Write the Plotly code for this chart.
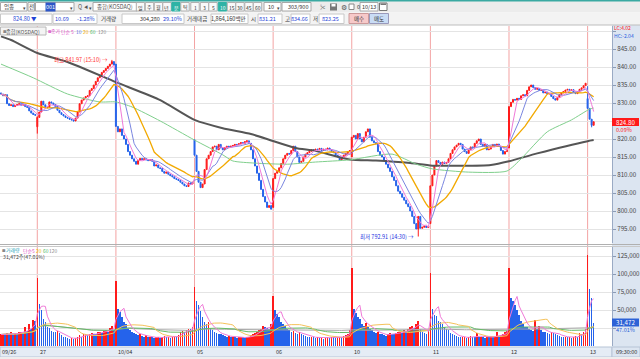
import numpy as np
import pandas as pd
import plotly.graph_objects as go

FONT = "Noto Sans CJK KR, Noto Sans, sans-serif"
W, H = 640, 359
ML, MR, MT, MB = 0, 28, 26, 13
PW = W - ML - MR
PH = H - MT - MB
BASE = H - MB

# ---------------- data (10-minute candles, KOSDAQ) ----------------
day_labels = ["09/26", "27", "10/04", "05", "06", "10", "11", "12", "13"]
day_open = [832.8, 823.4, 840.8, 819.8, 801.0, 815.0, 796.5, 817.5, 831.21]

close_0926 = [832.5, 832.0, 832.3, 829.8, 829.3, 829.5, 829.0, 829.3, 829.6, 829.8,
              829.4, 829.6, 829.0, 828.8, 827.8, 827.2, 826.8, 826.6]
close_0927 = [826.0, 827.5, 830.5, 829.5, 828.6, 828.8, 830.3, 830.0, 829.6, 829.0,
              828.0, 827.3, 826.8, 826.4, 826.0, 825.8, 825.5, 825.3, 825.0, 825.8,
              827.5, 829.8, 830.8, 831.4, 831.8, 832.0, 833.5, 834.0, 835.0, 836.0,
              837.0, 837.8, 838.5, 839.0, 839.6, 840.2, 840.8, 841.5, 840.5]
close_1004 = [823.5, 822.0, 822.8, 821.0, 820.0, 818.5, 816.5, 815.5, 814.5, 813.8,
              813.0, 814.0, 814.6, 814.3, 814.5, 814.2, 814.0, 814.3, 813.8, 812.5,
              812.8, 812.0, 811.8, 811.0, 810.5, 810.8, 810.2, 809.8, 809.5, 809.0,
              808.8, 808.5, 808.0, 807.5, 807.0, 806.8, 807.8, 807.5, 808.0]
close_1005 = [815.5, 811.0, 808.0, 806.5, 807.5, 811.5, 814.5, 815.5, 816.5, 817.8,
              818.0, 817.0, 818.5, 817.5, 817.0, 817.6, 818.0, 817.8, 818.0, 818.2,
              818.5, 818.4, 818.7, 819.0, 818.8, 819.3, 819.5, 818.8, 817.0, 814.5,
              812.5, 810.5, 808.5, 806.0, 804.0, 802.5, 801.0, 801.5, 800.5]
close_1006 = [809.0, 810.5, 811.0, 812.0, 813.2, 814.5, 815.5, 816.0, 815.8, 816.8,
              818.0, 816.5, 815.0, 813.5, 813.8, 815.0, 815.8, 816.2, 816.6, 817.0,
              816.8, 817.2, 817.0, 817.4, 816.8, 817.2, 817.0, 817.5, 817.0, 816.5,
              816.2, 815.5, 815.0, 814.2, 814.8, 815.5, 816.0, 816.5, 816.8]
close_1010 = [820.5, 821.0, 820.0, 821.5, 820.0, 819.2, 820.5, 822.0, 822.8, 820.5,
              819.5, 819.0, 818.6, 816.5, 815.5, 815.0, 814.0, 813.0, 812.0, 811.0,
              809.5, 808.5, 807.0, 805.5, 804.8, 803.8, 803.0, 802.0, 801.2, 800.0,
              798.5, 796.5, 795.0, 798.5, 795.2, 795.5, 795.8, 795.4, 795.8]
close_1011 = [807.0, 810.0, 812.5, 814.0, 813.5, 813.0, 813.6, 813.2, 813.5, 814.5,
              816.0, 817.0, 817.8, 818.3, 818.8, 818.5, 817.2, 816.5, 816.0, 817.0,
              817.8, 817.5, 818.8, 819.5, 820.0, 818.5, 818.0, 818.5, 817.0, 817.2,
              818.0, 818.5, 818.2, 818.6, 818.0, 816.8, 815.8, 816.5, 817.0]
close_1012 = [829.0, 830.2, 831.0, 830.8, 831.3, 831.0, 832.0, 832.3, 832.0, 833.5,
              834.5, 835.0, 834.3, 833.8, 834.0, 833.5, 833.6, 832.8, 833.0, 832.5,
              832.6, 831.8, 831.2, 830.8, 831.5, 832.3, 832.8, 833.2, 833.6, 833.8,
              833.5, 833.7, 833.0, 832.6, 833.2, 833.8, 834.2, 834.8, 835.49]
close_1013 = [828.5, 825.5, 823.8, 824.8]

vol_0926 = [16000, 17000, 15000, 18000, 16000, 19000, 15000, 18000, 17000, 19000,
            20000, 17000, 26000, 21000, 30000, 24000, 36000, 35000]
vol_0927 = [95000, 59000, 50000, 38000, 33000, 27000, 25000, 21000, 20000, 19000,
            21000, 18000, 15000, 13000, 12000, 11000, 10000, 11000, 10000, 11000,
            12000, 15000, 13000, 16000, 17000, 15000, 16000, 18000, 17000, 16000,
            19000, 20000, 18000, 21000, 22000, 20000, 25000, 28000, 22000]
vol_1004 = [90000, 51000, 47000, 40000, 34000, 30000, 25000, 22000, 20000, 18000,
            17000, 15000, 16000, 14000, 13000, 15000, 12000, 13000, 12000, 11000,
            12000, 13000, 11000, 12000, 14000, 12000, 13000, 11000, 12000, 14000,
            13000, 15000, 20000, 21000, 19000, 22000, 24000, 23000, 26000]
vol_1005 = [82000, 62000, 57000, 48000, 40000, 34000, 30000, 33000, 25000, 22000,
            20000, 18000, 17000, 16000, 15000, 14000, 13000, 14000, 12000, 13000,
            12000, 11000, 12000, 13000, 12000, 11000, 12000, 13000, 15000, 16000,
            18000, 20000, 22000, 24000, 28000, 26000, 25000, 24000, 30000]
vol_1006 = [69000, 50000, 45000, 40000, 33000, 30000, 28000, 24000, 22000, 20000,
            21000, 18000, 17000, 19000, 16000, 15000, 14000, 13000, 12000, 13000,
            12000, 11000, 12000, 11000, 12000, 10000, 11000, 12000, 11000, 13000,
            12000, 11000, 12000, 13000, 12000, 14000, 15000, 16000, 22000]
vol_1010 = [108000, 52000, 46000, 40000, 38000, 30000, 28000, 32000, 27000, 24000,
            22000, 20000, 18000, 19000, 17000, 16000, 15000, 14000, 16000, 18000,
            17000, 16000, 18000, 19000, 20000, 18000, 22000, 21000, 24000, 26000,
            28000, 25000, 30000, 35000, 24000, 20000, 18000, 17000, 22000]
vol_1011 = [102000, 52000, 43000, 41000, 35000, 33000, 30000, 26000, 24000, 22000,
            18000, 16000, 15000, 14000, 13000, 12000, 12000, 13000, 11000, 12000,
            14000, 13000, 12000, 18000, 12000, 13000, 12000, 11000, 13000, 12000,
            14000, 12000, 13000, 19000, 14000, 15000, 16000, 20000, 21000]
vol_1012 = [108000, 66000, 63000, 57000, 50000, 43000, 35000, 30000, 27000, 26000,
            24000, 22000, 21000, 36000, 24000, 28000, 22000, 20000, 19000, 18000,
            17000, 20000, 18000, 17000, 15000, 14000, 13000, 12000, 13000, 12000,
            13000, 11000, 12000, 14000, 13000, 18000, 16000, 20000, 24000]
vol_1013 = [127000, 79000, 66000, 31472]

# candles with a visible wick beyond the body
wick_high_idx = [55, 291, 18]
wick_high_val = [841.97, 834.66, 826.3]
wick_low_idx = [18, 207, 293]
wick_low_val = [821.5, 792.91, 823.25]

# long moving averages (candle index -> value)
ma60_idx = [0, 16, 33, 49, 57, 65, 79, 96, 110, 115, 126, 142, 156, 173, 194, 206, 214, 232, 251, 258, 271, 283, 292, 294]
ma60_val = [840.8, 837.0, 832.5, 830.3, 830.3, 828.9, 825.0, 819.7, 815.6, 813.9, 813.3, 813.0, 813.6, 814.2, 815.8, 813.0, 811.7, 810.8, 811.1, 814.5, 822.0, 825.3, 828.3, 828.6]
ma120_idx = [0, 5, 18, 33, 57, 79, 96, 110, 124, 134, 146, 156, 173, 186, 203, 214, 243, 252, 266, 291, 294]
ma120_val = [848.5, 847.5, 843.9, 841.4, 835.8, 830.8, 825.3, 823.0, 821.4, 819.6, 817.5, 816.7, 814.3, 814.0, 813.3, 812.6, 812.8, 813.8, 816.0, 819.4, 819.7]

price_ticks = [795, 800, 805, 810, 815, 820, 825, 830, 835, 840, 845]
vol_ticks = [50000, 75000, 100000, 125000]

# ---------------- assemble ----------------
days_close = [close_0926, close_0927, close_1004, close_1005, close_1006,
              close_1010, close_1011, close_1012, close_1013]
days_vol = [vol_0926, vol_0927, vol_1004, vol_1005, vol_1006,
            vol_1010, vol_1011, vol_1012, vol_1013]
closes = np.array(sum(days_close, []), dtype=float)
vols = np.array(sum(days_vol, []), dtype=float)
n = len(closes)
xi = np.arange(n)
day_start = np.cumsum([0] + [len(d) for d in days_close[:-1]])

opens = np.empty(n)
opens[1:] = closes[:-1]
opens[day_start] = day_open
highs = np.maximum(opens, closes)
lows = np.minimum(opens, closes)
for i, v in zip(wick_high_idx, wick_high_val):
    highs[i] = max(highs[i], v)
for i, v in zip(wick_low_idx, wick_low_val):
    lows[i] = min(lows[i], v)

cs = pd.Series(closes)
ma5 = cs.rolling(5, min_periods=1).mean()
ma10 = cs.rolling(10, min_periods=1).mean()
ma20 = cs.rolling(20, min_periods=1).mean()
vs = pd.Series(vols)
vma5 = vs.rolling(5, min_periods=1).mean()
vma20 = vs.rolling(20, min_periods=1).mean()
vma60 = vs.rolling(60, min_periods=1).mean()
vma120 = vs.rolling(120, min_periods=1).mean()

RED = "#ff1a1a"
BLUE = "#2563eb"
vcol = [RED if (i == 0 or vols[i] >= vols[i - 1]) else BLUE for i in range(n)]

fig = go.Figure()
fig.add_trace(go.Candlestick(
    x=xi, open=opens, high=highs, low=lows, close=closes,
    increasing=dict(line=dict(color=RED, width=1), fillcolor=RED),
    decreasing=dict(line=dict(color=BLUE, width=1), fillcolor=BLUE),
    whiskerwidth=0, xaxis="x", yaxis="y", hoverinfo="skip"))
fig.add_trace(go.Scatter(x=ma120_idx, y=ma120_val, mode="lines", line=dict(color="#555555", width=2, shape="spline", smoothing=0.6), xaxis="x", yaxis="y"))
fig.add_trace(go.Scatter(x=ma60_idx, y=ma60_val, mode="lines", line=dict(color="#7fcf8c", width=1, shape="spline", smoothing=0.6), xaxis="x", yaxis="y"))
fig.add_trace(go.Scatter(x=xi, y=ma20, mode="lines", line=dict(color="#f2a900", width=1.3), xaxis="x", yaxis="y"))
fig.add_trace(go.Scatter(x=xi, y=ma10, mode="lines", line=dict(color="#7a86e0", width=1), xaxis="x", yaxis="y"))
fig.add_trace(go.Scatter(x=xi, y=ma5, mode="lines", line=dict(color="#f07ad8", width=1), xaxis="x", yaxis="y"))

fig.add_trace(go.Bar(x=xi, y=vols, marker=dict(color=vcol, line=dict(width=0)), width=0.78, xaxis="x", yaxis="y2", hoverinfo="skip"))
fig.add_trace(go.Scatter(x=xi, y=vma120, mode="lines", line=dict(color="#a8a8a8", width=1), xaxis="x", yaxis="y2"))
fig.add_trace(go.Scatter(x=xi, y=vma60, mode="lines", line=dict(color="#66bb66", width=1), xaxis="x", yaxis="y2"))
fig.add_trace(go.Scatter(x=xi, y=vma20, mode="lines", line=dict(color="#f5c25a", width=1), xaxis="x", yaxis="y2"))
fig.add_trace(go.Scatter(x=xi, y=vma5, mode="lines", line=dict(color="#f07ad8", width=1), xaxis="x", yaxis="y2"))

# ---------------- helpers ----------------
shapes = []
annos = []
FS = 5.5
LS = 4.9


def px(x):
    return (x - ML) / PW


def py(y):
    return (BASE - y) / PH


def rect(x0, y0, x1, y1, fill, line=None, layer="above", lw=1):
    shapes.append(dict(type="rect", xref="paper", yref="paper",
                       x0=px(x0), x1=px(x1), y0=py(y1), y1=py(y0),
                       fillcolor=fill, layer=layer,
                       line=dict(color=line if line else fill, width=lw if line else 0)))


def hline(x0, x1, y, color, w=1, layer="above"):
    shapes.append(dict(type="line", xref="paper", yref="paper", x0=px(x0), x1=px(x1),
                       y0=py(y), y1=py(y), line=dict(color=color, width=w), layer=layer))


def txt(x, y, s, color="#333333", size=FS, anchor="left", bg=None):
    a = dict(xref="paper", yref="paper", x=px(x), y=py(y), text=s, showarrow=False,
             xanchor=anchor, yanchor="middle", borderpad=0,
             font=dict(size=size, color=color, family=FONT))
    if bg:
        a["bgcolor"] = bg
    annos.append(a)


# right axis background and bottom strip
rect(612, 25, 640, 347, "#dce5f1", layer="below")
rect(0, 347, 612, 357, "#e5ecf5", line="#b7c4d6")
rect(612, 347, 640, 357, "#dce5f1", line="#b7c4d6")
txt(626, 352, "09:30:00", "#333333", FS, "center")
rect(0, 357, 640, 359, "#eeeeee")
for k, i in enumerate(day_start):
    annos.append(dict(xref="x", yref="paper", x=i + 0.2 if k else -0.3, y=py(352), text=day_labels[k],
                      showarrow=False, xanchor="left", yanchor="middle",
                      font=dict(size=FS, color="#333333", family=FONT)))

# day separators
for i in day_start[1:]:
    shapes.append(dict(type="line", xref="x", yref="paper", x0=i, x1=i, y0=0, y1=1,
                       line=dict(color="#f3a3a3", width=1), layer="below"))

# panel separator
hline(0, 640, 244.5, "#b0b0b0", 1)
hline(0, 640, 246.5, "#c8c8c8", 1)

# toolbar
rect(0, 0, 640, 12.5, "#ececec")
rect(0, 0, 640, 1.5, "#3aa9a2")
rect(0, 12.5, 640, 25, "#f3f3f3")
hline(0, 640, 25, "#bdbdbd", 1)
rect(0.5, 2.5, 27, 11, "#ffffff", "#a8a8a8")
txt(3, 7, "업종", "#444444")
txt(24.5, 7, "▾", "#444444", 5, "center")
rect(28, 2.5, 34.5, 11, "#f7f7f7", "#a8a8a8")
txt(31.2, 7, "전", "#333333", FS, "center")
rect(35.5, 2.5, 74, 11, "#ffffff", "#a8a8a8")
txt(45, 7, "001", "#ffffff", FS, "left", "#2d56c8")
txt(71.5, 7, "▾", "#444444", 5, "center")
txt(79.5, 7, "Q", "#555555", FS, "center")
txt(86, 7, "◀", "#555555", 4, "center")
txt(90, 7, "▾", "#444444", 5, "center")
rect(93, 2.5, 137, 11, "#ffffff", "#a8a8a8")
txt(115, 7, "종합(KOSDAQ)", "#555555", FS, "center")
btns = [("일", 140.5), ("주", 149.5), ("월", 158.5), ("년", 167), ("분", 176), ("틱", 185),
        ("1", 195), ("3", 204.5), ("5", 213), ("10", 222.5), ("15", 231.5), ("30", 240), ("45", 249), ("60", 257.5)]
for s, cx in btns:
    on = s in ("분", "10")
    rect(cx - 4.2, 2.5, cx + 4.2, 11, "#2eb3a5" if on else "#f9f9f9", "#2eb3a5" if on else "#b0b0b0")
    txt(cx, 7, s, "#ffffff" if on else "#333333", 5, "center")
rect(264, 2.5, 281, 11, "#ffffff", "#a8a8a8")
txt(267, 7, "10", "#333333")
txt(278, 7, "▾", "#444444", 5, "center")
rect(282, 2.5, 311, 11, "#ffffff", "#a8a8a8")
txt(309, 7, "303/900", "#333333", FS, "right")
txt(323, 7, "✂", "#555555", FS, "center")
rect(330, 3.5, 337, 10.5, "#777777")
rect(331.5, 4, 335.5, 6.5, "#ffffff")
txt(343.5, 7, "⚙", "#555555", 7, "center")
rect(349, 4, 354, 9.5, "#ffffff", "#888888")
txt(356, 7, "0", "#333333")
rect(360, 2.5, 378, 11, "#ffffff", "#a8a8a8")
txt(369, 7, "10/13", "#333333", FS, "center")
rect(379.5, 3, 387, 10.5, "#ffffff", "#777777")
rect(380.5, 3.5, 386, 5, "#777777")

# row 2 info
BL = "#1f44d6"
rect(0.5, 14, 52, 23.5, "#ffffff", "#c8c8c8")
txt(38, 18.7, "824.80 ▼", BL, FS, "right")
rect(53, 14, 97, 23.5, "#ffffff", "#c8c8c8")
txt(70, 18.7, "10.69", BL, FS, "right")
txt(96, 18.7, "-1.28%", BL, FS, "right")
txt(99.5, 18.7, "거래량", "#333333")
rect(122, 14, 184, 23.5, "#ffffff", "#c8c8c8")
txt(161, 18.7, "304,280", "#333333", FS, "right")
txt(183, 18.7, "29.10%", BL, FS, "right")
txt(186, 18.7, "거래대금", "#333333")
rect(211, 14, 248, 23.5, "#ffffff", "#c8c8c8")
txt(247, 18.7, "1,864,160백만", "#333333", FS, "right")
txt(250, 18.7, "시", "#333333")
rect(258, 14, 282, 23.5, "#ffffff", "#c8c8c8")
txt(277, 18.7, "831.21", BL, FS, "right")
txt(283.5, 18.7, "고", "#333333")
rect(291, 14, 310, 23.5, "#ffffff", "#c8c8c8")
txt(309, 18.7, "834.66", BL, FS, "right")
txt(311.5, 18.7, "저", "#333333")
rect(319, 14, 344, 23.5, "#ffffff", "#c8c8c8")
txt(340, 18.7, "823.25", BL, FS, "right")
rect(349, 13.5, 368.5, 23.5, "#f7c9c9", "#cc9999")
txt(358.7, 18.5, "매수", "#333333", FS, "center")
rect(369.5, 13.5, 388.5, 23.5, "#c9dcf5", "#9999bb")
txt(379, 18.5, "매도", "#333333", FS, "center")

# chart legends
rect(0.5, 27, 46, 35, "#f4f4f4", "#b8b8b8")
txt(1.5, 31, "■", "#888888", 3.5)
txt(5, 31, "종합(KOSDAQ)", "#555555", 5.2)
txt(47, 31, "■", "#e070d0", 3.5)
txt(50, 31, "종가", "#e050c8", LS)
txt(60, 31, "단순", "#e050c8", LS)
txt(69.5, 31, "5", "#e050c8", LS)
txt(74.5, 31, "10", "#5a6ee0", LS)
txt(82, 31, "20", "#f2a900", LS)
txt(89, 31, "60", "#50b860", LS)
txt(96.5, 31, "120", "#888888", LS)
txt(1, 250, "■", "#888888", 3.5)
txt(5, 250, "거래량", "#1ea3b5", LS)
txt(22, 250, "단순", "#e050c8", LS)
txt(31, 250, "5", "#e050c8", LS)
txt(35, 250, "20", "#e8b400", LS)
txt(42, 250, "60", "#50b860", LS)
txt(48, 250, "120", "#888888", LS)
txt(1.5, 257, "31,472주(47.01%)", "#444444", 5.2)

# right axis boxes
txt(613, 28, "LC:4.02", "#ff2020", 5)
txt(613, 35.5, "HC:-2.04", "#2b5fe0", 5)
rect(612, 118, 639, 126, "#ff1a1a")
txt(615, 122, "824.80", "#ffffff", 6.2)
txt(615, 129.5, "0.09%", "#ff1a1a", FS)
rect(612, 318.5, 639, 326.5, "#2d62d6")
txt(615, 322.5, "31,472", "#ffffff", 6.2)
txt(615, 330, "47.01%", "#2d62d6", FS)

# high / low markers
annos.append(dict(xref="x", yref="y", x=wick_high_idx[0] - 1.0, y=wick_high_val[0], text="최고 841.97 (15:10) →",
                  showarrow=False, xanchor="right", yanchor="middle",
                  font=dict(size=FS, color="#ff3030", family=FONT)))
annos.append(dict(xref="x", yref="y", x=wick_low_idx[1] - 1.0, y=wick_low_val[1], text="최저 792.91 (14:30) →",
                  showarrow=False, xanchor="right", yanchor="middle",
                  font=dict(size=FS, color="#2030e0", family=FONT)))

p_lo = 845 - (243 - 49) / 3.6
p_hi = 845 + (49 - 26) / 3.6
fig.update_layout(
    width=W, height=H, margin=dict(l=ML, r=MR, t=MT, b=MB, pad=0),
    paper_bgcolor="white", plot_bgcolor="white", showlegend=False, hovermode=False,
    bargap=0,
    xaxis=dict(domain=[0, 1], range=[-0.5, 303.1], anchor="y2", showticklabels=False,
               showgrid=False, zeroline=False, ticks="", showline=False,
               rangeslider=dict(visible=False), fixedrange=True),
    yaxis=dict(domain=[py(243), 1], range=[p_lo, p_hi], side="right", anchor="x",
               tickvals=price_ticks + [850],
               ticktext=[("" if v == 825 else f"{v:.2f}") for v in price_ticks] + [""],
               tickfont=dict(size=6.2, color="#444444", family=FONT), ticks="outside", ticklen=3,
               tickcolor="#8a9ab5", gridcolor="#e4e4e4", gridwidth=1, zeroline=False,
               showline=True, linecolor="#9aaac4", linewidth=1, fixedrange=True),
    yaxis2=dict(domain=[0, py(247)], range=[0, (BASE - 247) / 18 * 25000], side="right", anchor="x",
                tickvals=[25000] + vol_ticks, ticktext=[""] + [f"{v:,}" for v in vol_ticks],
                tickfont=dict(size=6.2, color="#444444", family=FONT), ticks="outside", ticklen=3,
                tickcolor="#8a9ab5", gridcolor="#e4e4e4", gridwidth=1, zeroline=False,
                showline=True, linecolor="#9aaac4", linewidth=1, fixedrange=True),
    shapes=shapes, annotations=annos,
)
fig.write_html("out.html", config={"displayModeBar": False, "staticPlot": True},
               post_script="document.body.style.margin='0';document.body.style.overflow='hidden';")
